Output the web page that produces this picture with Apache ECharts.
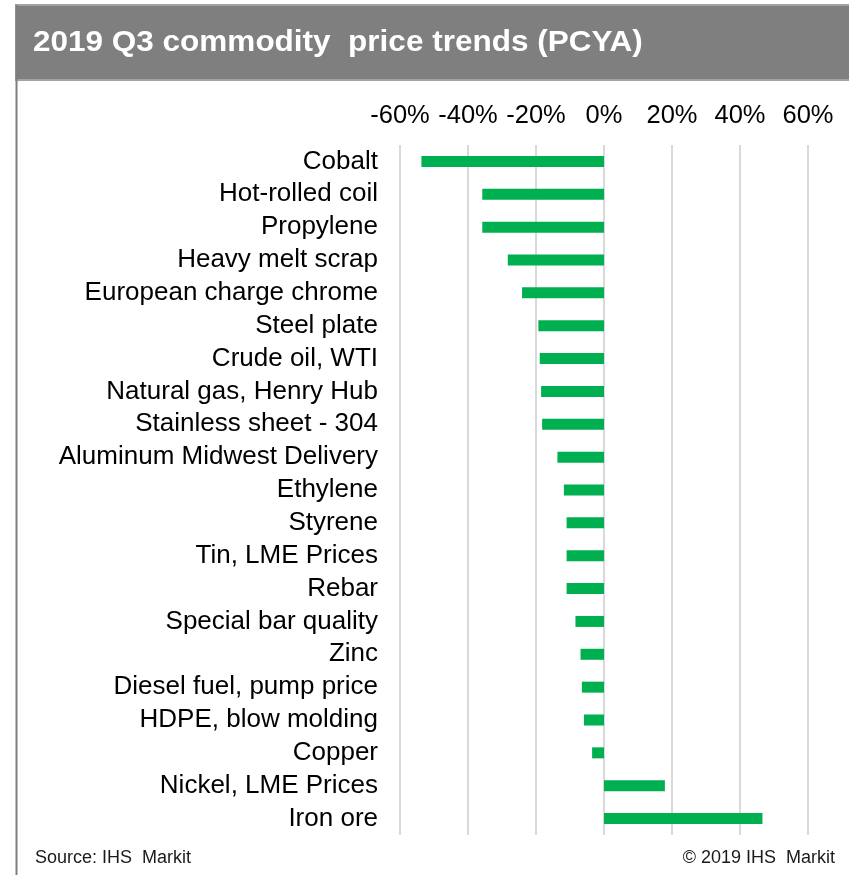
<!DOCTYPE html>
<html>
<head>
<meta charset="utf-8">
<title>2019 Q3 commodity price trends (PCYA)</title>
<script src="https://cdn.jsdelivr.net/npm/echarts@6/dist/echarts.min.js"></script>
<style>
  html, body { margin: 0; padding: 0; background: #ffffff; }
  #chart { width: 849px; height: 875px; }
</style>
</head>
<body>
<div id="chart"></div>
<script>
// Commodity names, top to bottom
const categories = [
  'Cobalt',
  'Hot-rolled coil',
  'Propylene',
  'Heavy melt scrap',
  'European charge chrome',
  'Steel plate',
  'Crude oil, WTI',
  'Natural gas, Henry Hub',
  'Stainless sheet - 304',
  'Aluminum Midwest Delivery',
  'Ethylene',
  'Styrene',
  'Tin, LME Prices',
  'Rebar',
  'Special bar quality',
  'Zinc',
  'Diesel fuel, pump price',
  'HDPE, blow molding',
  'Copper',
  'Nickel, LME Prices',
  'Iron ore'
];

// Percent change from a year ago (PCYA), Q3 2019
const pcya = [
  -53.7, -35.8, -35.8, -28.3, -24.1, -19.3, -18.9, -18.5, -18.2, -13.7,
  -11.8, -11.0, -11.0, -11.0, -8.4, -6.9, -6.5, -5.9, -3.5, 17.9, 46.6
];

// Value axis ticks
const axisMin = -60;
const axisMax = 60;
const axisStep = 20;

const titleText = '2019 Q3 commodity  price trends (PCYA)';
const sourceText = 'Source: IHS  Markit';
const copyrightText = '\u00A9 2019 IHS  Markit';

const chart = echarts.init(document.getElementById('chart'), null, { renderer: 'canvas' });

const font = '"Liberation Sans", Arial, Helvetica, sans-serif';

chart.setOption({
  animation: false,
  backgroundColor: '#ffffff',
  textStyle: { fontFamily: font },
  grid: { left: 400, right: 41, top: 145, bottom: 40, containLabel: false },
  xAxis: {
    type: 'value',
    position: 'top',
    min: axisMin,
    max: axisMax,
    interval: axisStep,
    axisLine: { show: false },
    axisTick: { show: false },
    axisLabel: {
      margin: 16,
      fontSize: 25.5,
      color: '#000000',
      fontFamily: font,
      formatter: v => v + '%'
    },
    splitLine: { show: true, lineStyle: { color: '#d9d9d9', width: 2 } }
  },
  yAxis: {
    type: 'category',
    data: categories,
    inverse: true,
    axisLine: { show: false },
    axisTick: { show: false },
    axisLabel: {
      interval: 0,
      margin: 22,
      fontSize: 26,
      color: '#000000',
      fontFamily: font
    },
    splitLine: { show: false }
  },
  series: [{
    type: 'bar',
    data: pcya,
    barWidth: 11,
    itemStyle: { color: '#00b050' }
  }],
  graphic: [
    {
      type: 'rect',
      shape: { x: 16, y: 5, width: 840, height: 75 },
      style: { fill: '#7f7f7f', stroke: '#a3a3a3', lineWidth: 2 },
      z: 1
    },
    {
      type: 'line',
      shape: { x1: 16.5, y1: 5, x2: 16.5, y2: 875 },
      style: { stroke: '#7f7f7f', lineWidth: 2 },
      z: 2
    },
    {
      type: 'text',
      x: 33,
      y: 43,
      scaleX: 1.05,
      style: {
        text: titleText,
        fill: '#ffffff',
        fontSize: 30,
        fontWeight: 'bold',
        fontFamily: font,
        verticalAlign: 'middle',
        align: 'left'
      },
      z: 3
    },
    {
      type: 'text',
      x: 35,
      y: 858,
      style: {
        text: sourceText,
        fill: '#1a1a1a',
        fontSize: 18,
        fontFamily: font,
        verticalAlign: 'middle',
        align: 'left'
      },
      z: 3
    },
    {
      type: 'text',
      x: 835,
      y: 858,
      style: {
        text: copyrightText,
        fill: '#1a1a1a',
        fontSize: 18,
        fontFamily: font,
        verticalAlign: 'middle',
        align: 'right'
      },
      z: 3
    }
  ]
});
</script>
</body>
</html>
